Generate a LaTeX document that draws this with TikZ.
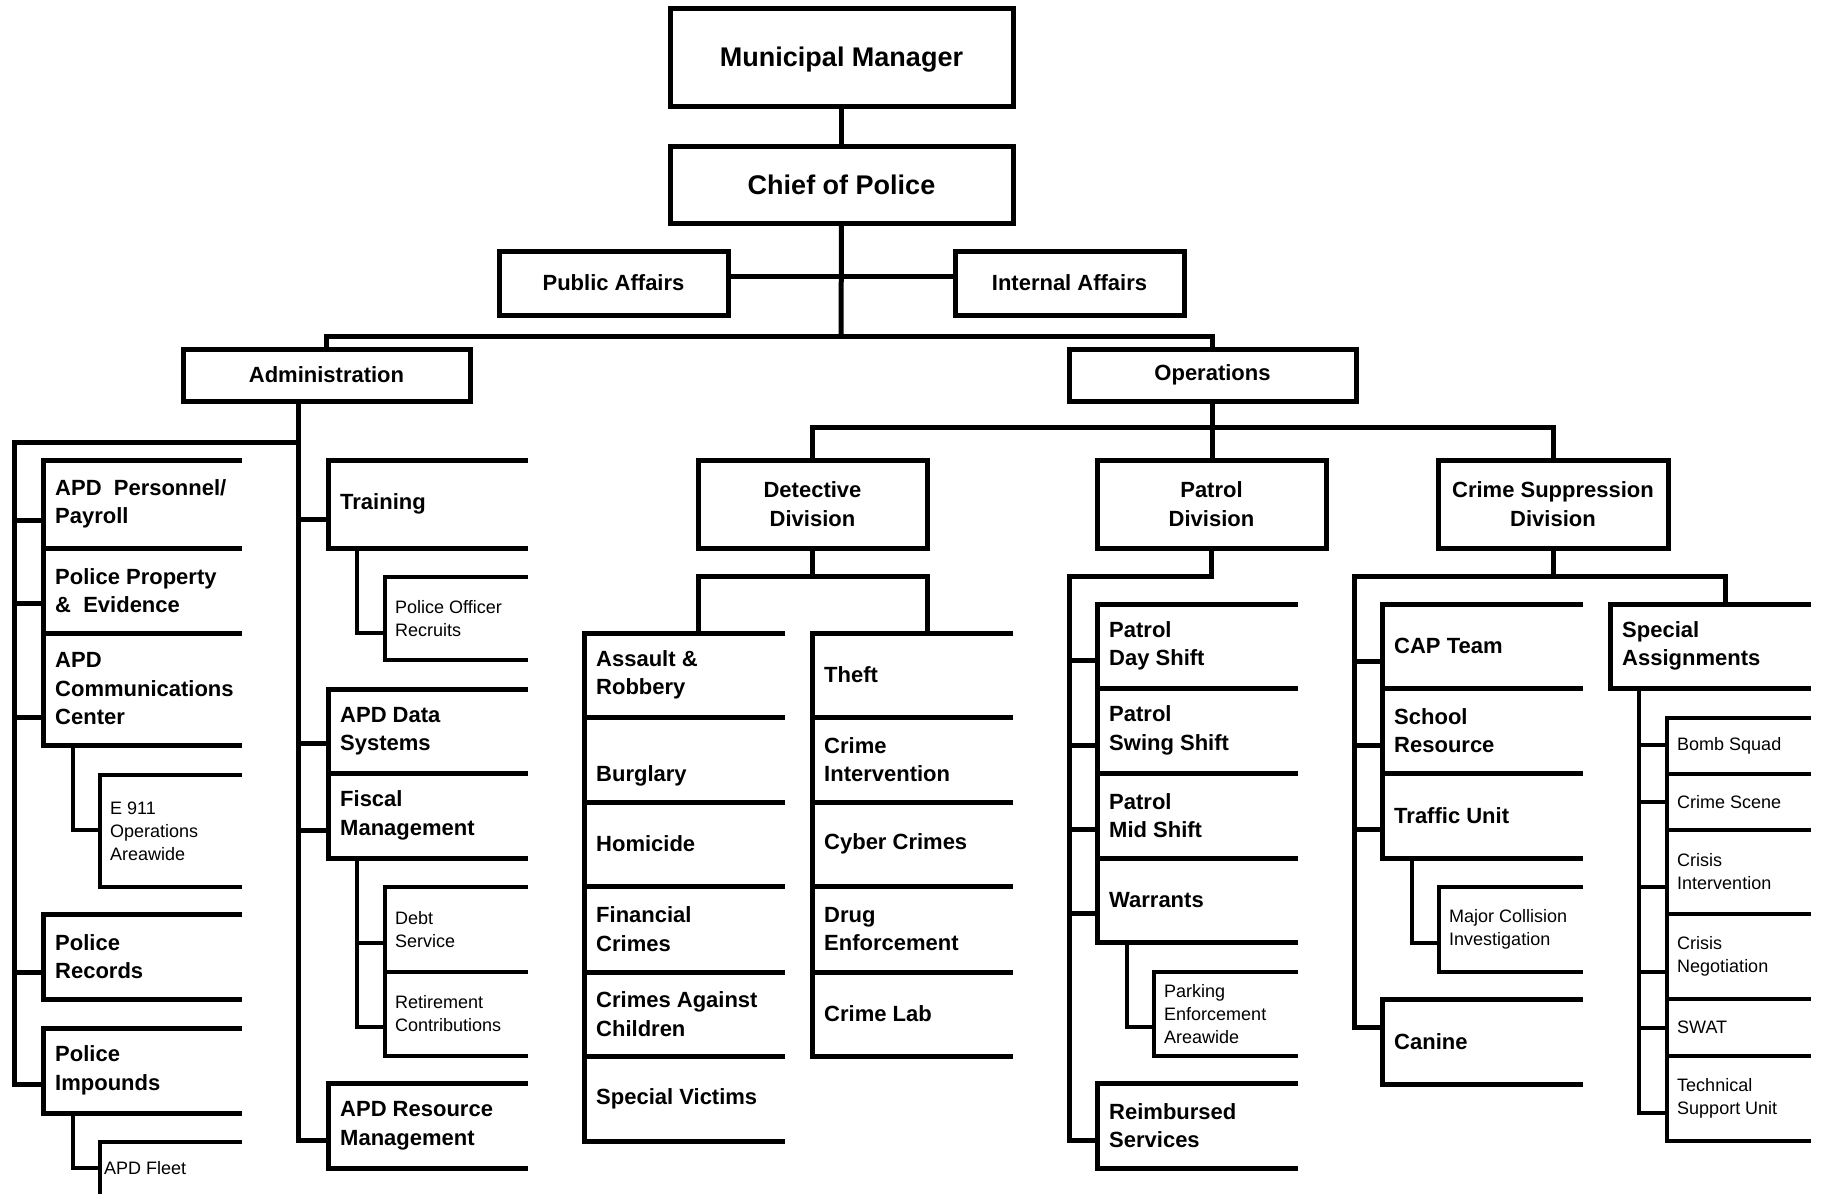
\documentclass[tikz,border=0pt]{standalone}
\usepackage{fontspec}
\setmainfont{Liberation Sans}
\usetikzlibrary{calc}
\newcommand\ftop{\fontsize{27pt}{32pt}\selectfont\bfseries}
\newcommand\fbig{\fontsize{22pt}{28.5pt}\selectfont\bfseries}
\newcommand\fsmall{\fontsize{18pt}{23pt}\selectfont}
\tikzset{
  thickln/.style={line width=5pt},
  thinln/.style={line width=3.2pt},
  cell/.style={rectangle, draw=none, inner sep=0pt, outer sep=0pt, anchor=north west},
  cbox/.style={rectangle, draw, line width=5pt, inner sep=0pt, outer sep=0pt, anchor=north west, align=center, font=\fbig},
  bigtxt/.style={inner sep=0pt, anchor=west, align=left, font=\fbig},
  smalltxt/.style={inner sep=0pt, anchor=west, align=left, font=\fsmall},
}
\newcommand\bigbox[7]{%
  \node[cell, minimum width={#4-#2}, minimum height={#5-#3}] (#1) at (#2,#3) {};
  \draw[thickln] (#1.north east) -- (#1.north west) -- (#1.south west) -- (#1.south east);
  \node[bigtxt] (#1-t) at ([xshift=12pt]#1.west) {#7};
  \coordinate (#1-c) at (#2,#6);
}
\newcommand\smallbox[7]{%
  \node[cell, minimum width={#4-#2}, minimum height={#5-#3}] (#1) at (#2,#3) {};
  \draw[thinln] (#1.north east) -- (#1.north west) -- (#1.south west) -- (#1.south east);
  \node[smalltxt] (#1-t) at ([xshift=10pt]#1.west) {#7};
  \coordinate (#1-c) at (#2,#6);
}
\begin{document}
\begin{tikzpicture}[x=1pt,y=-1pt]
\useasboundingbox (0,0) rectangle (1823,1194);
\fill[white] (0,0) rectangle (1823,1194);

% ---- top level ----
\node[cbox, minimum width=343, minimum height=98, font=\ftop, text depth=0pt] (mm) at (670,8) {Municipal Manager};
\node[cbox, minimum width=343, minimum height=77, font=\ftop] (chief) at (670,146) {Chief of Police};
\node[cbox, minimum width=229, minimum height=64] (pa) at (499,251) {Public Affairs};
\node[cbox, minimum width=229, minimum height=64] (ia) at (955,251) {Internal Affairs};
\node[cbox, minimum width=287, minimum height=52] (adm) at (183,349) {Administration};
\node[cbox, minimum width=287, minimum height=52] (ops) at (1069,349) {Operations};
\node[cbox, minimum width=229, minimum height=88] (det) at (698,460) {Detective\\Division};
\node[cbox, minimum width=229, minimum height=88] (pat) at (1097,460) {Patrol\\Division};
\node[cbox, minimum width=230, minimum height=88] (csd) at (1438,460) {Crime Suppression\\Division};

\coordinate (bus) at (841,336);
\coordinate (affl) at (841,276);
\draw[thickln] (mm.south) -- (chief.north);
\draw[thickln] (chief.south) -- (bus);
\draw[thickln] (adm.north) |- (bus) -| (ops.north);
\draw[thickln] (pa.east |- affl) -- (ia.west |- affl);

% ---- administration, left column ----
\bigbox{pers}{43}{460}{242}{548}{520}{APD\ \ Personnel/\\Payroll}
\bigbox{prop}{43}{548}{242}{633}{603}{Police Property\\\&\ \ Evidence}
\bigbox{comm}{43}{633}{242}{745}{717}{APD\\Communications\\Center}
\smallbox{e911}{100}{775}{242}{887}{830}{E 911\\Operations\\Areawide}
\bigbox{rec}{43}{914}{242}{999}{972}{Police\\Records}
\bigbox{imp}{43}{1028}{242}{1113}{1084}{Police\\Impounds}
\node[cell, minimum width=142, minimum height=52] (fleet) at (100,1142) {};
\draw[thinln] (fleet.north east) -- (fleet.north west) -- (fleet.south west);
\node[smalltxt] (fleet-t) at ([xshift=4pt]fleet.west) {APD Fleet};
\coordinate (fleet-c) at (100,1168);

% ---- administration, right column ----
\bigbox{trn}{328}{460}{528}{548}{519}{Training}
\smallbox{rcr}{385}{577}{528}{660}{633}{Police Officer\\Recruits}
\bigbox{data}{328}{689}{528}{773}{743}{APD Data\\Systems}
\bigbox{fisc}{328}{773}{528}{858}{830}{Fiscal\\Management}
\smallbox{debt}{385}{887}{528}{972}{943}{Debt\\Service}
\smallbox{ret}{385}{972}{528}{1056}{1027}{Retirement\\Contributions}
\bigbox{res}{328}{1083}{528}{1168}{1140}{APD Resource\\Management}

\coordinate (admv) at (298,401);
\coordinate (lbus) at (14,442);
\draw[thickln] (admv) |- (lbus) |- (imp-c);
\foreach \b in {pers,prop,comm,rec} \draw[thickln] (lbus) |- (\b-c);
\foreach \b in {trn,data,fisc,res} \draw[thickln] (admv) |- (\b-c);
\coordinate (e911-b) at (73,745);
\coordinate (fleet-b) at (73,1113);
\coordinate (rcr-b) at (357,548);
\coordinate (debt-b) at (357,858);
\draw[thinln] (e911-b) |- (e911-c);
\draw[thinln] (fleet-b) |- (fleet-c);
\draw[thinln] (rcr-b) |- (rcr-c);
\draw[thinln] (debt-b) |- (debt-c);
\draw[thinln] (debt-b) |- (ret-c);

% ---- operations ----
\coordinate (obus) at (1212,427);
\draw[thickln] (ops.south) -- (ops.south |- pat.north);
\draw[thickln] (det.north) |- (obus) -| (csd.north);

% detective
\bigbox{ar}{584}{633}{785}{717}{0}{Assault \&\\Robbery}
\bigbox{burg}{584}{717}{785}{802}{0}{}
\node[bigtxt, anchor=base west] (burg-l) at ([xshift=12pt,yshift=21pt]burg.south west) {Burglary};
\bigbox{hom}{584}{802}{785}{886}{0}{Homicide}
\bigbox{fin}{584}{886}{785}{972}{0}{Financial\\Crimes}
\bigbox{cac}{584}{972}{785}{1056}{0}{Crimes Against\\Children}
\bigbox{sv}{584}{1056}{785}{1141}{0}{Special Victims}
\bigbox{theft}{812}{633}{1013}{717}{0}{Theft}
\bigbox{ci}{812}{717}{1013}{802}{0}{Crime\\Intervention}
\bigbox{cyber}{812}{802}{1013}{886}{0}{Cyber Crimes}
\bigbox{drug}{812}{886}{1013}{972}{0}{Drug\\Enforcement}
\bigbox{lab}{812}{972}{1013}{1056}{0}{Crime Lab}
\coordinate (dbar) at (812,576);
\draw[thickln] (det.south) -- (det.south |- dbar);
\draw[thickln] (det.south west |- ar.north) |- (dbar) -| (det.south east |- theft.north);

% patrol
\bigbox{day}{1097}{604}{1298}{688}{660}{Patrol\\Day Shift}
\bigbox{swing}{1097}{688}{1298}{773}{745}{Patrol\\Swing Shift}
\bigbox{mid}{1097}{773}{1298}{858}{829}{Patrol\\Mid Shift}
\bigbox{warr}{1097}{858}{1298}{942}{913}{Warrants}
\smallbox{park}{1154}{972}{1298}{1056}{1027}{Parking\\Enforcement\\Areawide}
\bigbox{reimb}{1097}{1083}{1298}{1168}{1140}{Reimbursed\\Services}
\coordinate (pbus) at (1069,576);
\draw[thickln] (pat.south) |- (pbus) |- (reimb-c);
\foreach \b in {day,swing,mid,warr} \draw[thickln] (pbus) |- (\b-c);
\coordinate (park-b) at (1127,942);
\draw[thinln] (park-b) |- (park-c);

% crime suppression
\bigbox{cap}{1382}{604}{1583}{688}{661}{CAP Team}
\bigbox{school}{1382}{688}{1583}{773}{745}{School\\Resource}
\bigbox{traffic}{1382}{773}{1583}{858}{829}{Traffic Unit}
\smallbox{mci}{1439}{887}{1583}{972}{943}{Major Collision\\Investigation}
\bigbox{canine}{1382}{999}{1583}{1084}{1027}{Canine}
\bigbox{sa}{1610}{604}{1811}{688}{0}{Special\\Assignments}
\smallbox{bomb}{1667}{718}{1811}{774}{745}{Bomb Squad}
\smallbox{scene}{1667}{774}{1811}{830}{802}{Crime Scene}
\smallbox{cint}{1667}{830}{1811}{914}{887}{Crisis\\Intervention}
\smallbox{cneg}{1667}{914}{1811}{999}{972}{Crisis\\Negotiation}
\smallbox{swat}{1667}{999}{1811}{1056}{1028}{SWAT}
\smallbox{tsu}{1667}{1056}{1811}{1141}{1113}{Technical\\Support Unit}
\coordinate (cbus) at (1354,576);
\coordinate (sadrop) at (1725,604);
\draw[thickln] (csd.south) -- (csd.south |- cbus);
\draw[thickln] (sadrop) |- (cbus) |- (canine-c);
\foreach \b in {cap,school,traffic} \draw[thickln] (cbus) |- (\b-c);
\coordinate (mci-b) at (1412,858);
\draw[thinln] (mci-b) |- (mci-c);
\coordinate (sab) at (1639,688);
\draw[thinln] (sab) |- (tsu-c);
\foreach \b in {bomb,scene,cint,cneg,swat} \draw[thinln] (sab) |- (\b-c);
\end{tikzpicture}
\end{document}
